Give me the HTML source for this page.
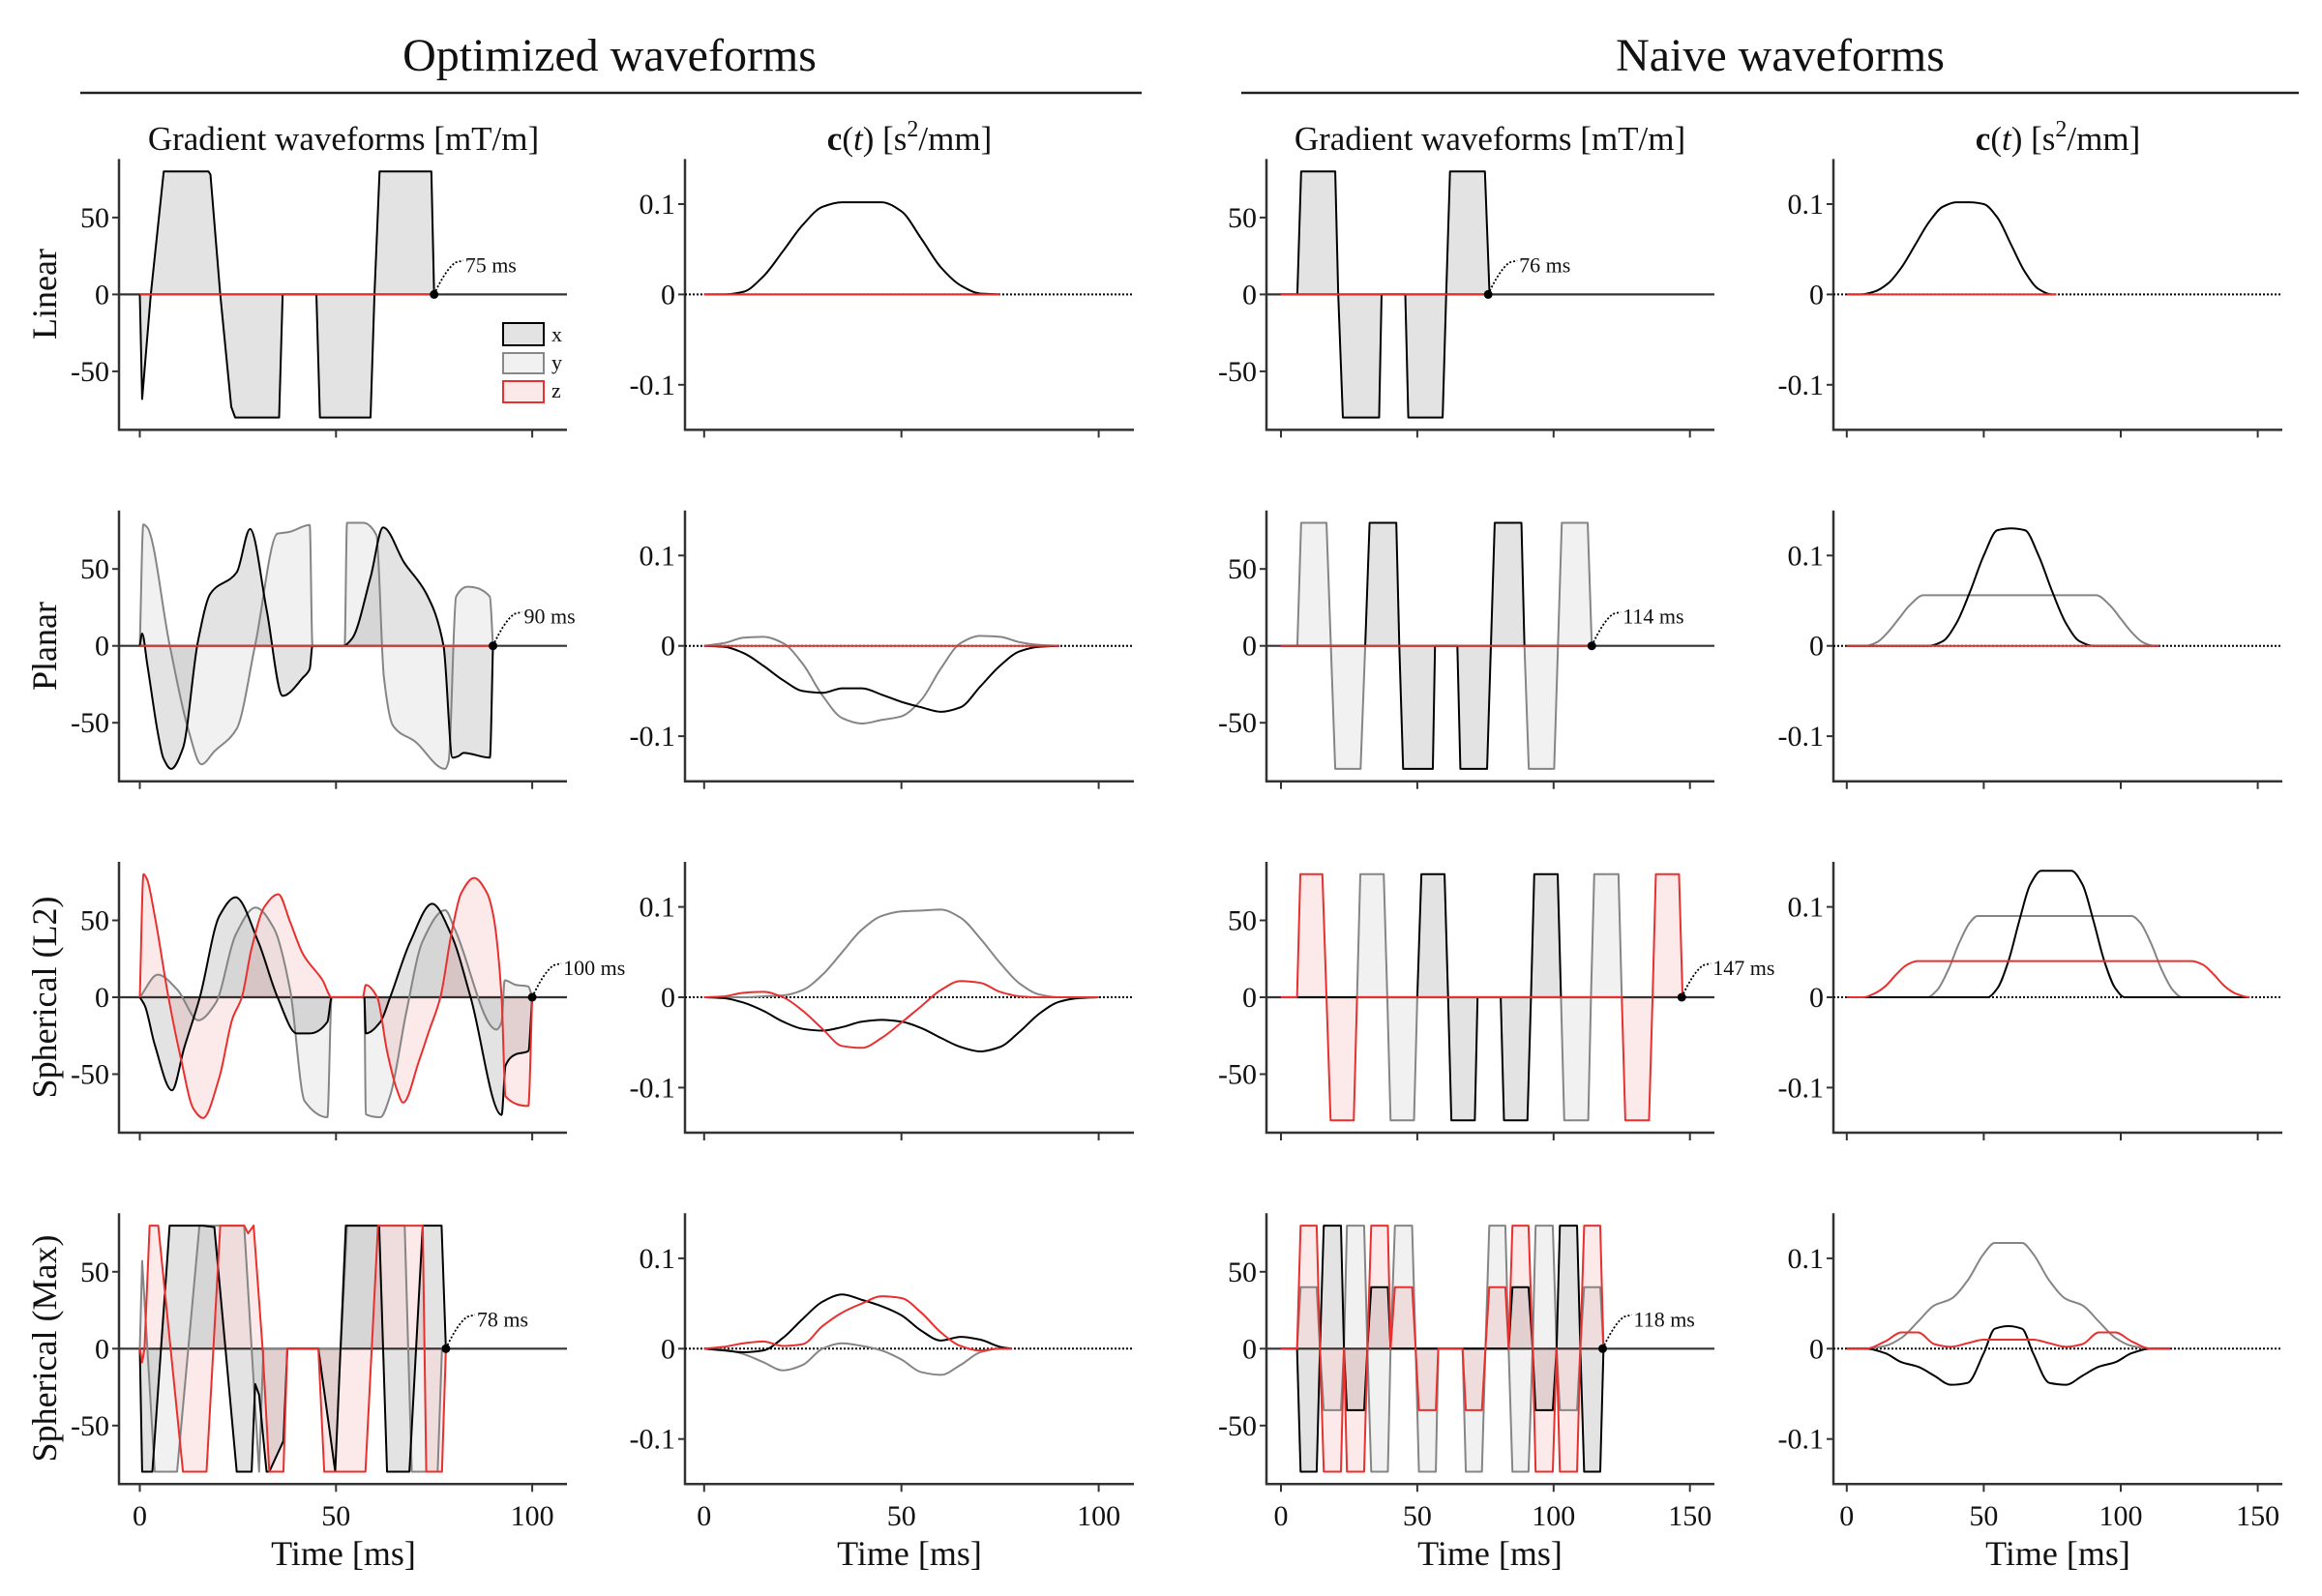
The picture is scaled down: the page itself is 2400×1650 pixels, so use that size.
<!DOCTYPE html>
<html>
<head>
<meta charset="utf-8">
<style>
  html,body{margin:0;padding:0;background:#fff;}
  svg{display:block;}
  text{font-family:"Liberation Serif",serif;fill:#111;}
</style>
</head>
<body>
<svg id="chart" width="2400" height="1650" viewBox="0 0 2400 1650" xmlns="http://www.w3.org/2000/svg">
  <rect x="0" y="0" width="2400" height="1650" fill="#fff"/>
  <text x="630" y="73" font-size="48" text-anchor="middle">Optimized waveforms</text>
  <line x1="83" y1="96" x2="1180" y2="96" stroke="#222" stroke-width="2.5"/>
  <text x="1840" y="73" font-size="48" text-anchor="middle">Naive waveforms</text>
  <line x1="1283" y1="96" x2="2376" y2="96" stroke="#222" stroke-width="2.5"/>

  <text x="355" y="155" font-size="35" text-anchor="middle">Gradient waveforms [mT/m]</text>
  <text x="940" y="155" font-size="35" text-anchor="middle"><tspan font-weight="bold">c</tspan>(<tspan font-style="italic">t</tspan>) [s<tspan dy="-14" font-size="24">2</tspan><tspan dy="14">/mm]</tspan></text>
  <text x="1540" y="155" font-size="35" text-anchor="middle">Gradient waveforms [mT/m]</text>
  <text x="2127" y="155" font-size="35" text-anchor="middle"><tspan font-weight="bold">c</tspan>(<tspan font-style="italic">t</tspan>) [s<tspan dy="-14" font-size="24">2</tspan><tspan dy="14">/mm]</tspan></text>

  <text transform="translate(58,304) rotate(-90)" font-size="36" text-anchor="middle">Linear</text>
  <text transform="translate(58,668) rotate(-90)" font-size="36" text-anchor="middle">Planar</text>
  <text transform="translate(58,1031) rotate(-90)" font-size="36" text-anchor="middle">Spherical (L2)</text>
  <text transform="translate(58,1394) rotate(-90)" font-size="36" text-anchor="middle">Spherical (Max)</text>

  <text x="355" y="1618" font-size="36" text-anchor="middle">Time [ms]</text>
  <text x="940" y="1618" font-size="36" text-anchor="middle">Time [ms]</text>
  <text x="1540" y="1618" font-size="36" text-anchor="middle">Time [ms]</text>
  <text x="2127" y="1618" font-size="36" text-anchor="middle">Time [ms]</text>

  <g id="panels"></g>

  <g>
    <rect x="520" y="334" width="42" height="23" fill="#e3e3e3" stroke="#000" stroke-width="2"/>
    <text x="570" y="353" font-size="22">x</text>
    <rect x="520" y="365" width="42" height="21" fill="#f1f1f1" stroke="#888" stroke-width="2"/>
    <text x="570" y="382" font-size="22">y</text>
    <rect x="520" y="394" width="42" height="22" fill="#fbe8e8" stroke="#e8302e" stroke-width="2"/>
    <text x="570" y="411" font-size="22">z</text>
  </g>
</svg>

<script>
// ===== Data (times in ms, gradient in mT/m, c(t) in s^2/mm) =====
const gradTicks = [50, 0, -50];
const cTicks = [0.1, 0, -0.1];
const cTickLabels = ["0.1", "0", "-0.1"];
const xTicksOpt = [0, 50, 100];
const xTicksNaive = [0, 50, 100, 150];
const endTimes = [[75, 0, 76, 0], [90, 0, 114, 0], [100, 0, 147, 0], [78, 0, 118, 0]];
const endLabels = [["75 ms", "", "76 ms", ""], ["90 ms", "", "114 ms", ""], ["100 ms", "", "147 ms", ""], ["78 ms", "", "118 ms", ""]];

// Row 1 Linear - optimized
const optLinGxT = [0,0.6,2.8,6.1,17.5,18,20.5,23.3,24.3,35.5,36.4,45,45.9,58.8,59.8,61.1,74.3,75];
const optLinGxV = [0,-68,0,80,80,78,0,-73,-80,-80,0,0,-80,-80,0,80,80,0];
const optLinGyT = [0,75];
const optLinGyV = [0,0];
const optLinGzT = [0,75];
const optLinGzV = [0,0];
const optLinCT = [0,5,10,15,20,25,30,35,40,45,50,55,60,65,70,75];
const optLinCx = [0,0,0.003,0.02,0.048,0.077,0.097,0.102,0.102,0.102,0.092,0.062,0.03,0.01,0.001,0];
const optLinCzero = [0,0,0,0,0,0,0,0,0,0,0,0,0,0,0,0];

// Row 1 Linear - naive
const naiLinGxT = [0,6,7.4,19.9,21,22.7,36,36.9,45.6,46.7,59.3,60.6,62,74.8,76.5];
const naiLinGxV = [0,0,80,80,0,-80,-80,0,0,-80,-80,0,80,80,0];
const naiLinGzT = [0,76.5];
const naiLinGzV = [0,0];
const naiLinCT = [0,5,10,15,20,25,30,35,40,45,50,55,60,65,70,75,76.5];
const naiLinCx = [0,0,0.003,0.012,0.03,0.055,0.08,0.097,0.102,0.102,0.1,0.085,0.055,0.025,0.006,0,0];
const naiLinCzT = [0,76.5];
const naiLinCzV = [0,0];

// Row 2 Planar - optimized
const optPlaGxT = [0,0.6,1.9,4.7,6,8,11,14.8,18,24.7,28.1,32.3,36.4,41.7,43.3,44,51.8,54.1,58.8,62,67.4,73,77.4,79.7,81.2,82.5,89.2,90];
const optPlaGxV = [0,8,-12,-58,-73,-80,-66.5,2.7,34,47.8,76,23.7,-32.5,-20.3,-15,0,0,4.8,44.6,77,54,34,0,-72.7,-71.7,-69.6,-72.7,0];
const optPlaGyT = [0,0.9,1.9,7.6,12.3,15.7,19,24.7,29.4,35.1,38,43.3,44,52.2,52.8,56.9,60.3,62.2,64.5,70.2,77.8,78.7,80.6,83.5,89.2,90];
const optPlaGyV = [0,79,77,0.6,-53.9,-77,-68.6,-53.9,0.6,73,74,78.6,0,0,80,80,72,-20.3,-51.8,-62.3,-80,-75,32,38.4,32,0];
const optPlaGzT = [0,90];
const optPlaGzV = [0,0];
const optPlaCT = [0,5,10,15,20,25,30,35,40,45,50,55,60,65,70,75,80,85,90];
const optPlaCx = [0,-0.001,-0.008,-0.022,-0.038,-0.05,-0.052,-0.047,-0.047,-0.054,-0.062,-0.068,-0.073,-0.068,-0.045,-0.022,-0.006,-0.001,0];
const optPlaCy = [0,0.003,0.009,0.01,0.003,-0.02,-0.055,-0.08,-0.086,-0.082,-0.078,-0.06,-0.025,0.003,0.011,0.01,0.004,0.001,0];
const optPlaCzT = [0,90];
const optPlaCzV = [0,0];

// Row 2 Planar - naive
const naiPlaGxT = [0,30.9,32.5,42.3,43.4,44.8,55.7,56.5,64.7,65.8,75.6,77,78.4,88.2,89.3,114];
const naiPlaGxV = [0,0,80,80,0,-80,-80,0,0,-80,-80,0,80,80,0,0];
const naiPlaGyT = [0,6,7.4,16.7,18.3,19.9,29.2,30.9,89.3,90.9,100.2,101.6,103,112.5,114];
const naiPlaGyV = [0,0,80,80,0,-80,-80,0,0,-80,-80,0,80,80,0];
const naiPlaGzT = [0,114];
const naiPlaGzV = [0,0];
const naiPlaCxT = [0,30,35,40,45,50,55,60,65,70,75,80,85,90,114];
const naiPlaCxV = [0,0,0.005,0.025,0.06,0.1,0.128,0.13,0.128,0.1,0.06,0.025,0.005,0,0];
const naiPlaCyT = [0,7,11,15,19,23,28,91,96,100,104,108,112,114];
const naiPlaCyV = [0,0,0.004,0.015,0.03,0.045,0.056,0.056,0.045,0.03,0.015,0.004,0,0];
const naiPlaCzT = [0,114];
const naiPlaCzV = [0,0];

// Row 3 Spherical (L2) - optimized
const optL2GxT = [0,1.3,3.8,8.2,11.3,15.3,20.3,24.4,30.2,35.1,40,43.3,47.8,48.9,57.2,57.6,61.3,63.8,68.9,74.5,79.4,84.3,92.2,93.2,95.9,99,100];
const optL2GxV = [0,-5.6,-30.8,-60.5,-33,0,53,65,36,0,-23.5,-23.5,-16,0,0,-23.5,-16,0,36,60.8,40.5,0,-76.5,-44.4,-37,-35,0];
const optL2GyT = [0,4.6,9.6,14.9,19.4,24.4,29.5,34.2,38.3,42,47.8,48.9,57.2,57.6,61.3,63.8,67.9,72,77.8,80.2,90.9,92.2,93,95.9,99,100];
const optL2GyV = [0,14.7,4.8,-15,-3.5,40.5,58.3,44.7,4.8,-67.5,-78,0,0,-76,-78,-64,-9.9,36,56.6,44.7,-21,-16,11,8,7,0];
const optL2GzT = [0,0.95,1.8,3.8,7.3,10.4,13.7,16.1,20.3,23.6,26,28.5,31.8,35.3,38.3,41.6,46.6,48.9,56.8,57.6,60.5,63,65.5,67.1,71.2,73.7,76.6,79.5,81.9,85.2,88.5,90.1,92.2,93.2,99,100];
const optL2GzV = [0,80,77,53,0,-39,-72.7,-78.5,-51.8,-14,0,32,59,67,49,28,11,0,0,8,0,-35,-60,-68.5,-41,-22,0,42.6,67.7,77.6,67.7,53,0,-64.5,-70.7,0];
const optL2CT = [0,5,10,15,20,25,30,35,40,45,50,55,60,65,70,75,80,85,90,95,100];
const optL2Cx = [0,-0.001,-0.006,-0.015,-0.027,-0.035,-0.037,-0.033,-0.027,-0.025,-0.027,-0.034,-0.045,-0.055,-0.06,-0.055,-0.038,-0.018,-0.005,-0.001,0];
const optL2Cy = [0,0,0,0.001,0.002,0.008,0.025,0.05,0.075,0.09,0.095,0.096,0.097,0.088,0.065,0.038,0.015,0.003,0,0,0];
const optL2Cz = [0,0.001,0.005,0.006,0,-0.015,-0.035,-0.054,-0.056,-0.045,-0.028,-0.01,0.008,0.018,0.016,0.006,0.001,0,0,0,0];

// Row 3 Spherical (L2) - naive
const naiL2GxT = [0,50,51.5,60,61.3,62.5,71.1,72.1,80.6,81.8,90.4,91.7,92.9,101.5,102.7];
const naiL2GxV = [0,0,80,80,0,-80,-80,0,0,-80,-80,0,80,80,0];
const naiL2GyT = [0,27.9,29.1,37.7,39,40.2,48.8,50,102.7,103.9,112.7,113.7,114.9,123.8,125];
const naiL2GyV = [0,0,80,80,0,-80,-80,0,0,-80,-80,0,80,80,0];
const naiL2GzT = [0,5.9,7.1,15.2,16.7,18.2,26.7,27.9,125,126.3,135,136.3,137.5,146,147.3];
const naiL2GzV = [0,0,80,80,0,-80,-80,0,0,-80,-80,0,80,80,0];
const naiL2CxT = [0,51.4,55,59,63,67,71,82,86,90,94,98,101.5,147];
const naiL2CxV = [0,0,0.01,0.04,0.085,0.125,0.14,0.14,0.125,0.085,0.04,0.01,0,0];
const naiL2CyT = [0,29.4,33,37,41,45,47.7,104,107,111,115,119,122.3,147];
const naiL2CyV = [0,0,0.008,0.03,0.06,0.083,0.09,0.09,0.083,0.06,0.03,0.008,0,0];
const naiL2CzT = [0,6.1,10,14,18,22,25.7,126,130,134,138,142,146.8,147];
const naiL2CzV = [0,0,0.004,0.012,0.025,0.036,0.04,0.04,0.036,0.025,0.012,0.004,0,0];

// Row 4 Spherical (Max) - optimized
const optMaxGxT = [0,0.6,3.2,7.6,16.1,19,24.7,28.5,29.4,30.4,32.3,33,36.6,37.6,45.5,49.8,52.5,61,63,68.7,72.1,76.9,78];
const optMaxGxV = [0,-80,-80,80,80,79,-80,-80,-23,-30,-80,-80,-60,0,0,-80,80,80,-80,-80,80,80,0];
const optMaxGyT = [0,0.6,3.8,9.5,15.2,26.6,30.4,31.5,51.2,52.8,67.5,69.3,75.9,77,78];
const optMaxGyV = [0,57,-80,-80,80,80,-80,0,0,80,80,-80,-80,0,0];
const optMaxGzT = [0,0.6,1.2,2.5,4.7,11,17,20.5,26.6,27.6,29,31.3,33,36.6,37.6,45.5,47,57.5,60.7,72.1,73,77,78];
const optMaxGzV = [0,-9,0,80,80,-80,-80,80,80,75,80,0,-80,-80,0,0,-80,-80,80,80,-80,-80,0];
const optMaxCT = [0,5,10,15,20,25,30,35,40,45,50,55,60,65,70,75,78];
const optMaxCx = [0,-0.002,-0.004,-0.002,0.012,0.033,0.052,0.06,0.054,0.047,0.037,0.02,0.009,0.013,0.01,0.002,0];
const optMaxCy = [0,-0.001,-0.006,-0.015,-0.024,-0.018,0,0.006,0.003,-0.002,-0.012,-0.026,-0.029,-0.018,-0.004,0,0];
const optMaxCz = [0,0.002,0.006,0.008,0.003,0.005,0.025,0.04,0.05,0.058,0.056,0.04,0.018,0.003,-0.002,0,0];

// Row 4 Spherical (Max) - naive
const naiMaxGT = [0,5.9,7.2,13.1,14.3,15.7,22,23.1,24.2,30.5,31.7,33.1,39.2,40.2,41.8,48.1,49.4,50.6,56.8,57.7,66.6,67.8,73.7,75,76.4,82.3,83.5,84.9,90.8,92.3,93.4,99.7,101.1,102.3,108.6,109.8,111.2,117.1,118.3];
const naiMaxGzV = [0,0,80,80,0,-80,-80,0,-80,-80,0,80,80,0,40,40,0,-40,-40,0,0,-40,-40,0,40,40,0,80,80,0,-80,-80,0,-80,-80,0,80,80,0];
const naiMaxGyV = [0,0,40,40,0,-40,-40,0,80,80,0,-80,-80,0,80,80,0,-80,-80,0,0,-80,-80,0,80,80,0,-80,-80,0,80,80,0,-40,-40,0,40,40,0];
const naiMaxGxT = [0,5.9,7.2,13.1,14.3,15.7,22,23.1,24.2,30.5,31.7,33.1,39.2,40.2,83.5,84.9,90.8,92.3,93.4,99.7,101.1,102.3,108.6,109.8,111.2,117.1,118.3];
const naiMaxGxV = [0,0,-80,-80,0,80,80,0,-40,-40,0,40,40,0,0,40,40,0,-40,-40,0,80,80,0,-80,-80,0];
const naiMaxCT = [0,7,14,20,26,32,38,44,50,54,59,64,68,74,80,86,92,98,104,111,118];
const naiMaxCy = [0,0,0.003,0.012,0.03,0.048,0.055,0.075,0.105,0.117,0.117,0.117,0.105,0.075,0.055,0.048,0.03,0.012,0.003,0,0];
const naiMaxCx = [0,0,-0.005,-0.015,-0.02,-0.03,-0.04,-0.038,-0.005,0.022,0.025,0.022,-0.005,-0.038,-0.04,-0.03,-0.02,-0.015,-0.005,0,0];
const naiMaxCz = [0,0,0.008,0.018,0.018,0.005,0.002,0.006,0.01,0.01,0.01,0.01,0.01,0.006,0.002,0.005,0.018,0.018,0.008,0,0];

// ===== Layout (not data) =====
const NS = "http://www.w3.org/2000/svg";
const cols = [
  {ax:123, end:586, x0:144.5, k:4.056},
  {ax:708, end:1172, x0:727.8, k:4.078},
  {ax:1309, end:1772, x0:1324, k:2.818},
  {ax:1895, end:2359, x0:1908.8, k:2.832}
];
const rowZero = [304.4, 667.7, 1031, 1394.3];
const HALF = 140;
const GRAD_K = 1.59;
const C_K = 934;
const STYLE = {
  x: {stroke:"#000", fill:"rgba(0,0,0,0.11)"},
  y: {stroke:"#858585", fill:"rgba(0,0,0,0.055)"},
  z: {stroke:"#e8302e", fill:"rgba(230,40,40,0.10)"}
};

const root = document.getElementById('panels');
function mk(tag, parent) {
  const e = document.createElementNS(NS, tag);
  parent.appendChild(e);
  return e;
}
function xs(c, t) { return cols[c].x0 + t * cols[c].k; }
function ysG(r, v) { return rowZero[r] - v * GRAD_K; }
function ysC(r, v) { return rowZero[r] - v * C_K; }

function linePath(px, py) {
  let d = "";
  for (let i = 0; i < px.length; i++) d += (i ? "L" : "M") + px[i].toFixed(2) + "," + py[i].toFixed(2);
  return d;
}
function monoPath(px, py) {
  const n = px.length;
  if (n < 3) return linePath(px, py);
  const dx = [], sl = [];
  for (let i = 0; i < n - 1; i++) { dx.push(px[i+1]-px[i]); sl.push(dx[i] ? (py[i+1]-py[i])/dx[i] : 0); }
  const m = [sl[0]];
  for (let i = 1; i < n - 1; i++) {
    if (sl[i-1] * sl[i] <= 0) m.push(0);
    else {
      const w1 = 2*dx[i] + dx[i-1], w2 = dx[i] + 2*dx[i-1];
      m.push((w1 + w2) / (w1/sl[i-1] + w2/sl[i]));
    }
  }
  m.push(sl[n-2]);
  let d = "M" + px[0].toFixed(2) + "," + py[0].toFixed(2);
  for (let i = 0; i < n - 1; i++) {
    const h = dx[i] / 3;
    d += "C" + (px[i]+h).toFixed(2) + "," + (py[i]+m[i]*h).toFixed(2) + " " +
         (px[i+1]-h).toFixed(2) + "," + (py[i+1]-m[i+1]*h).toFixed(2) + " " +
         px[i+1].toFixed(2) + "," + py[i+1].toFixed(2);
  }
  return d;
}

function drawAxes(g, r, c, isGrad) {
  const C = cols[c];
  const top = rowZero[r] - HALF, bot = rowZero[r] + HALF;
  const yl = mk('line', g);
  yl.setAttribute('x1', C.ax); yl.setAttribute('x2', C.ax);
  yl.setAttribute('y1', top); yl.setAttribute('y2', bot + 1);
  yl.setAttribute('stroke', '#333'); yl.setAttribute('stroke-width', 2.5);
  
  
  const xl = mk('line', g);
  xl.setAttribute('x1', C.ax - 1); xl.setAttribute('x2', C.end);
  xl.setAttribute('y1', bot); xl.setAttribute('y2', bot);
  xl.setAttribute('stroke', '#333'); xl.setAttribute('stroke-width', 2.5);
  
  
  const yt = isGrad ? gradTicks : cTicks;
  for (let i = 0; i < yt.length; i++) {
    const y = isGrad ? ysG(r, yt[i]) : ysC(r, yt[i]);
    const tk = mk('line', g);
    tk.setAttribute('x1', C.ax - 7); tk.setAttribute('x2', C.ax);
    tk.setAttribute('y1', y); tk.setAttribute('y2', y);
    tk.setAttribute('stroke', '#333'); tk.setAttribute('stroke-width', 2);
    
    
    const lb = mk('text', g);
    lb.setAttribute('x', C.ax - 10); lb.setAttribute('y', y + 10);
    lb.setAttribute('font-size', 30); lb.setAttribute('text-anchor', 'end');
    lb.textContent = isGrad ? String(yt[i]) : cTickLabels[i];
    
    
  }
  const xt = c >= 2 ? xTicksNaive : xTicksOpt;
  for (let i = 0; i < xt.length; i++) {
    const x = xs(c, xt[i]);
    const tk = mk('line', g);
    tk.setAttribute('x1', x); tk.setAttribute('x2', x);
    tk.setAttribute('y1', bot); tk.setAttribute('y2', bot + 8);
    tk.setAttribute('stroke', '#333'); tk.setAttribute('stroke-width', 2);
    
    
    if (r === 3) {
      const lb = mk('text', g);
      lb.setAttribute('x', x); lb.setAttribute('y', 1577);
      lb.setAttribute('font-size', 30); lb.setAttribute('text-anchor', 'middle');
      lb.textContent = String(xt[i]);
      
      
    }
  }
  const z = mk('line', g);
  z.setAttribute('x1', C.ax); z.setAttribute('x2', C.end);
  z.setAttribute('y1', rowZero[r]); z.setAttribute('y2', rowZero[r]);
  z.setAttribute('stroke', isGrad ? '#333' : '#000');
  z.setAttribute('stroke-width', isGrad ? 2.2 : 2);
  if (!isGrad) z.setAttribute('stroke-dasharray', '2,2');
  
  
}

function gradPanel(r, c, series, smooth) {
  const g = mk('g', root);
  
  
  drawAxes(g, r, c, true);
  const pathFn = smooth ? monoPath : linePath;
  for (const s of series) {
    const px = s.t.map(t => xs(c, t));
    const py = s.v.map(v => ysG(r, v));
    const f = mk('path', g);
    f.setAttribute('d', pathFn(px, py) + "L" + px[px.length-1] + "," + rowZero[r] + "L" + px[0] + "," + rowZero[r] + "Z");
    f.setAttribute('fill', STYLE[s.k].fill);
    f.setAttribute('stroke', 'none');
    
    
  }
  for (const s of series) {
    const px = s.t.map(t => xs(c, t));
    const py = s.v.map(v => ysG(r, v));
    const p = mk('path', g);
    p.setAttribute('d', pathFn(px, py));
    p.setAttribute('fill', 'none');
    p.setAttribute('stroke', STYLE[s.k].stroke);
    p.setAttribute('stroke-width', 2);
    p.setAttribute('stroke-linejoin', 'round');
    
    
  }
  const T = endTimes[r][c];
  const dx = xs(c, T), dy = rowZero[r];
  const dot = mk('circle', g);
  dot.setAttribute('cx', dx); dot.setAttribute('cy', dy); dot.setAttribute('r', 4.5);
  dot.setAttribute('fill', '#000');
  
  
  const ld = mk('path', g);
  ld.setAttribute('d', "M" + dx + "," + dy + " Q" + (dx+12) + "," + (dy-26) + " " + (dx+22) + "," + (dy-33) + " L" + (dx+30) + "," + (dy-35));
  ld.setAttribute('fill', 'none'); ld.setAttribute('stroke', '#000');
  ld.setAttribute('stroke-width', 1.8); ld.setAttribute('stroke-dasharray', '2,2');
  
  
  const tx = mk('text', g);
  tx.setAttribute('x', dx + 32); tx.setAttribute('y', dy - 23);
  tx.setAttribute('font-size', 22);
  tx.textContent = endLabels[r][c];
  
  
}

function cPanel(r, c, series) {
  const g = mk('g', root);
  
  
  drawAxes(g, r, c, false);
  for (const s of series) {
    const px = s.t.map(t => xs(c, t));
    const py = s.v.map(v => ysC(r, v));
    const p = mk('path', g);
    p.setAttribute('d', monoPath(px, py));
    p.setAttribute('fill', 'none');
    p.setAttribute('stroke', STYLE[s.k].stroke);
    p.setAttribute('stroke-width', 2);
    
    
  }
}

// Row 1
gradPanel(0, 0, [{k:'y', t:optLinGyT, v:optLinGyV}, {k:'x', t:optLinGxT, v:optLinGxV}, {k:'z', t:optLinGzT, v:optLinGzV}], false);
cPanel(0, 1, [{k:'y', t:optLinCT, v:optLinCzero}, {k:'x', t:optLinCT, v:optLinCx}, {k:'z', t:optLinCT, v:optLinCzero}]);
gradPanel(0, 2, [{k:'x', t:naiLinGxT, v:naiLinGxV}, {k:'z', t:naiLinGzT, v:naiLinGzV}], false);
cPanel(0, 3, [{k:'x', t:naiLinCT, v:naiLinCx}, {k:'z', t:naiLinCzT, v:naiLinCzV}]);
// Row 2
gradPanel(1, 0, [{k:'y', t:optPlaGyT, v:optPlaGyV}, {k:'x', t:optPlaGxT, v:optPlaGxV}, {k:'z', t:optPlaGzT, v:optPlaGzV}], true);
cPanel(1, 1, [{k:'y', t:optPlaCT, v:optPlaCy}, {k:'x', t:optPlaCT, v:optPlaCx}, {k:'z', t:optPlaCzT, v:optPlaCzV}]);
gradPanel(1, 2, [{k:'y', t:naiPlaGyT, v:naiPlaGyV}, {k:'x', t:naiPlaGxT, v:naiPlaGxV}, {k:'z', t:naiPlaGzT, v:naiPlaGzV}], false);
cPanel(1, 3, [{k:'y', t:naiPlaCyT, v:naiPlaCyV}, {k:'x', t:naiPlaCxT, v:naiPlaCxV}, {k:'z', t:naiPlaCzT, v:naiPlaCzV}]);
// Row 3
gradPanel(2, 0, [{k:'y', t:optL2GyT, v:optL2GyV}, {k:'x', t:optL2GxT, v:optL2GxV}, {k:'z', t:optL2GzT, v:optL2GzV}], true);
cPanel(2, 1, [{k:'y', t:optL2CT, v:optL2Cy}, {k:'x', t:optL2CT, v:optL2Cx}, {k:'z', t:optL2CT, v:optL2Cz}]);
gradPanel(2, 2, [{k:'y', t:naiL2GyT, v:naiL2GyV}, {k:'x', t:naiL2GxT, v:naiL2GxV}, {k:'z', t:naiL2GzT, v:naiL2GzV}], false);
cPanel(2, 3, [{k:'y', t:naiL2CyT, v:naiL2CyV}, {k:'x', t:naiL2CxT, v:naiL2CxV}, {k:'z', t:naiL2CzT, v:naiL2CzV}]);
// Row 4
gradPanel(3, 0, [{k:'y', t:optMaxGyT, v:optMaxGyV}, {k:'x', t:optMaxGxT, v:optMaxGxV}, {k:'z', t:optMaxGzT, v:optMaxGzV}], false);
cPanel(3, 1, [{k:'y', t:optMaxCT, v:optMaxCy}, {k:'x', t:optMaxCT, v:optMaxCx}, {k:'z', t:optMaxCT, v:optMaxCz}]);
gradPanel(3, 2, [{k:'y', t:naiMaxGT, v:naiMaxGyV}, {k:'x', t:naiMaxGxT, v:naiMaxGxV}, {k:'z', t:naiMaxGT, v:naiMaxGzV}], false);
cPanel(3, 3, [{k:'y', t:naiMaxCT, v:naiMaxCy}, {k:'x', t:naiMaxCT, v:naiMaxCx}, {k:'z', t:naiMaxCT, v:naiMaxCz}]);
</script>
</body>
</html>
